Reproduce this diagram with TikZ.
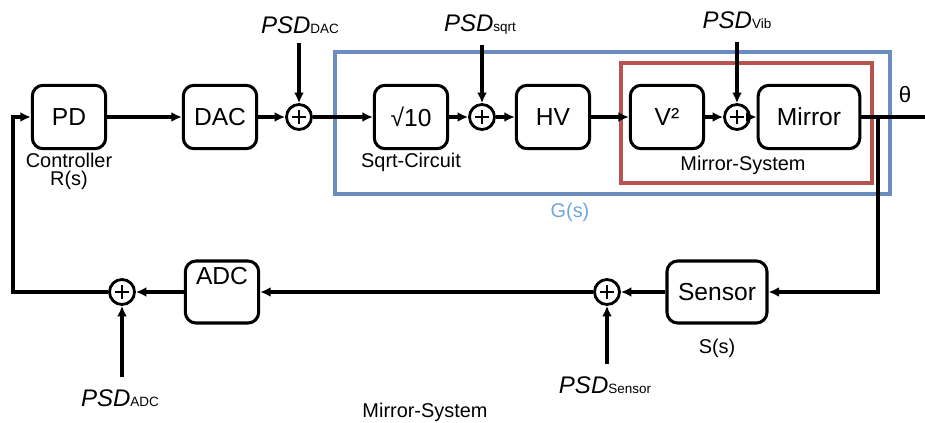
\documentclass[tikz,border=0pt]{standalone}
\usepackage{fontspec}
\setmainfont{Liberation Sans}
\usetikzlibrary{arrows.meta}

\definecolor{gblue}{RGB}{108,142,191}
\definecolor{gtext}{RGB}{110,165,225}
\definecolor{mred}{RGB}{184,84,80}

\tikzset{
  blk/.style={draw,rectangle,rounded corners=0.32cm,line width=2.6pt,minimum width=2.2cm,minimum height=1.9cm,font=\fontsize{21}{24}\selectfont},
  sumnode/.style={draw,circle,line width=2.4pt,minimum size=0.75cm,inner sep=0pt,
    path picture={\draw[line width=1.7pt] ([xshift=-0.22cm]path picture bounding box.center) -- ([xshift=0.22cm]path picture bounding box.center);
                  \draw[line width=1.7pt] ([yshift=-0.22cm]path picture bounding box.center) -- ([yshift=0.22cm]path picture bounding box.center);}},
  lbl/.style={font=\fontsize{17}{15.5}\selectfont,align=center,inner sep=1pt},
  psd/.style={font=\fontsize{20.5}{22}\selectfont\itshape,inner sep=1pt},
}
\newcommand{\psdsub}[1]{{\upshape\fontsize{11.5}{12}\selectfont #1}}

\begin{document}
\begin{tikzpicture}[x=0.03cm,y=-0.03cm,>={Latex[length=9pt,width=8.5pt]},line width=2.6pt]
\useasboundingbox (0,0) rectangle (925,423);

% system boxes
\draw [gblue,line width=2.8pt] (335,52) rectangle (890,194);
\node [gtext,lbl] (gs) at(570,212){G(s)};
\draw [mred,line width=2.8pt] (621,63) rectangle (872,183);
\node [lbl] (msys) at(743,165){Mirror-System};

% forward path
\node [blk] (pd) at(69,117){PD};
\node [lbl,below] (ctrl) at(pd.south){Controller\\R(s)};
\node [blk] (dac) at(220,117){DAC};
\node [sumnode] (sdac) at(299,117){};
\node [psd] (psddac) at(300,25){PSD\psdsub{DAC}};

\node [blk] (sqrt) at(411,117){√10};
\node [lbl,below] (sqlbl) at(sqrt.south){Sqrt-Circuit};
\node [sumnode] (ssqrt) at(482,117){};
\node [psd] (psdsqrt) at(480,25){PSD\psdsub{sqrt}};
\node [blk] (hv) at(553,117){HV};

\node [blk] (vsq) at(667,117){V²};
\node [sumnode] (svib) at(737,117){};
\node [psd] (psdvib) at(737,20){PSD\psdsub{Vib}};
\node [blk,minimum width=3.05cm] (mirror) at(809,117){Mirror};

\coordinate (br) at(878,117);
\coordinate (out) at(925,117);
\node [font=\fontsize{19}{22}\selectfont] (theta) at(905,95){θ};

\draw [->] (pd) -- (dac);
\draw [->] (dac) -- (sdac);
\draw [->] (sdac) -- (sqrt);
\draw [->] (sqrt) -- (ssqrt);
\draw [->] (ssqrt) -- (hv);
\draw [->] (hv) -- (vsq);
\draw [->] (vsq) -- (svib);
\draw [->] (svib) -- (mirror);
\draw (mirror) -- (br);
\draw [line width=3.8pt] (br) -- (out);

\draw [->,shorten <=6pt] (sdac |- psddac.south) -- (sdac);
\draw [->,shorten <=6pt] (ssqrt |- psdsqrt.south) -- (ssqrt);
\draw [->,shorten <=9pt] (svib |- psdvib.south) -- (svib);

% feedback path
\node [blk,minimum width=3cm,minimum height=1.86cm] (sensor) at(717,292){Sensor};
\node [lbl,below,yshift=-10pt] (ss) at(sensor.south){S(s)};
\node [sumnode] (ssen) at(607,292){};
\node [psd] (psdsen) at(605,385){PSD\psdsub{Sensor}};
\node [blk,inner ysep=0.1cm,text height=0.6cm,text depth=1.06cm,minimum height=1.86cm] (adc) at(222,292){ADC};
\node [sumnode] (sadc) at(122,292){};
\node [psd] (psdadc) at(120,398){PSD\psdsub{ADC}};
\coordinate (fbl) at(13,292);

\draw [->] (br) |- (sensor);
\draw [->] (sensor) -- (ssen);
\draw [->] (ssen) -- (adc);
\draw [->] (adc) -- (sadc);
\draw [->] (sadc) -- (fbl) |- (pd);
\draw [->,shorten <=8pt] (ssen |- psdsen.north) -- (ssen);
\draw [->,shorten <=8pt] (sadc |- psdadc.north) -- (sadc);

\node [lbl] (bottom) at(425,412){Mirror-System};
\end{tikzpicture}
\end{document}
